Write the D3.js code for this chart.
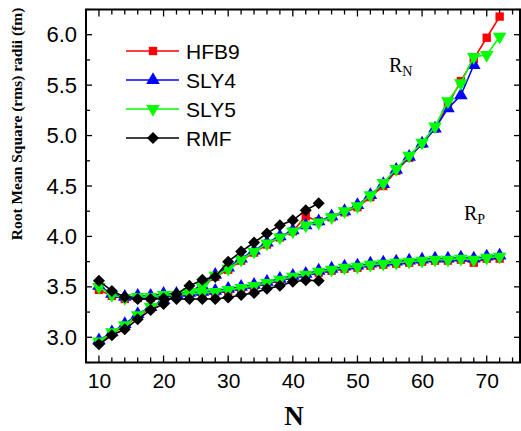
<!DOCTYPE html>
<html lang="en">
<head>
<meta charset="utf-8">
<script src="https://d3js.org/d3.v7.min.js"></script>
<style>
  body { margin: 0; background: #fff; }
  svg { display: block; }
  .tick text { font-family: "Liberation Sans", Arial, sans-serif; font-size: 21px; fill: #000; }
  .yax .tick text { font-size: 22px; }
</style>
<title>rms radii</title>
</head>
<body>
<script>
// neutron number
var nSky = d3.range(10, 73, 2);
var nRmf = d3.range(10, 45, 2);
var nSly4N = d3.range(10, 69, 2);

// R_N branch
var hfb9N = [2.95, 3.04, 3.11, 3.21, 3.29, 3.36, 3.41, 3.45, 3.50, 3.60, 3.67, 3.76, 3.84, 3.92, 3.99, 4.05,
             4.20, 4.15, 4.19, 4.24, 4.29, 4.39, 4.50, 4.65, 4.78, 4.92, 5.07, 5.31, 5.54, 5.76, 5.97, 6.18];
var sly4N = [2.97, 3.05, 3.13, 3.23, 3.30, 3.37, 3.42, 3.46, 3.51, 3.62, 3.69, 3.78, 3.86, 3.94, 4.00, 4.06,
             4.11, 4.15, 4.20, 4.25, 4.31, 4.41, 4.52, 4.66, 4.79, 4.92, 5.07, 5.27, 5.40, 5.70];
var sly5N = [2.96, 3.05, 3.12, 3.22, 3.30, 3.36, 3.42, 3.45, 3.50, 3.61, 3.68, 3.77, 3.85, 3.93, 3.99, 4.05,
             4.11, 4.14, 4.19, 4.25, 4.30, 4.41, 4.53, 4.67, 4.80, 4.93, 5.09, 5.34, 5.52, 5.78, 5.80, 5.98];
var rmfN  = [2.93, 3.02, 3.08, 3.18, 3.27, 3.33, 3.43, 3.51, 3.57, 3.60, 3.75, 3.85, 3.94, 4.03, 4.11, 4.16, 4.26, 4.33];

// R_P branch
var hfb9P = [3.47, 3.41, 3.38, 3.39, 3.39, 3.41, 3.41, 3.42, 3.43, 3.44, 3.46, 3.48, 3.50, 3.53, 3.56, 3.59,
             3.61, 3.64, 3.66, 3.68, 3.69, 3.71, 3.72, 3.73, 3.74, 3.75, 3.76, 3.76, 3.77, 3.74, 3.78, 3.78];
var sly4P = [3.51, 3.43, 3.40, 3.41, 3.41, 3.43, 3.43, 3.44, 3.45, 3.46, 3.48, 3.50, 3.52, 3.55, 3.58, 3.61,
             3.63, 3.66, 3.68, 3.70, 3.71, 3.73, 3.74, 3.75, 3.76, 3.77, 3.78, 3.78, 3.79, 3.78, 3.80, 3.81];
var sly5P = [3.50, 3.42, 3.39, 3.40, 3.40, 3.42, 3.42, 3.43, 3.44, 3.45, 3.47, 3.49, 3.51, 3.54, 3.57, 3.60,
             3.62, 3.65, 3.67, 3.69, 3.70, 3.72, 3.73, 3.74, 3.75, 3.76, 3.77, 3.77, 3.78, 3.77, 3.79, 3.80];
var rmfP  = [3.56, 3.46, 3.40, 3.38, 3.38, 3.385, 3.38, 3.38, 3.38, 3.38, 3.395, 3.42, 3.44, 3.48, 3.51, 3.55, 3.565, 3.56];

var seriesNames = ["HFB9", "SLY4", "SLY5", "RMF"];
var xTicks = [10, 20, 30, 40, 50, 60, 70];
var yTicks = [3.0, 3.5, 4.0, 4.5, 5.0, 5.5, 6.0];

var w = 521, h = 431;
var pL = 86, pR = 520, pT = 9.5, pB = 362.5;

var svg = d3.select("body").append("svg")
  .attr("width", w)
  .attr("height", h);

var x = d3.scaleLinear().domain([8, 75.15]).range([pL, pR]);
var y = d3.scaleLinear().domain([2.75, 6.25]).range([pB, pT]);

// frame
svg.append("rect")
  .attr("x", pL).attr("y", pT)
  .attr("width", pR - pL).attr("height", pB - pT)
  .attr("fill", "none").attr("stroke", "#000").attr("stroke-width", 2);

var xMinor = d3.range(8, 76, 2);
var yMinor = d3.range(0, 15).map(function(i) { return 2.75 + i * 0.25; });

// bottom axis
var gx = svg.append("g").attr("transform", "translate(0," + pB + ")");
gx.call(d3.axisBottom(x).tickValues(xTicks).tickSize(0).tickPadding(11).tickFormat(d3.format("d")));
gx.select(".domain").remove();
svg.append("g").selectAll("line").data(xMinor).enter().append("line")
  .attr("x1", function(d) { return x(d); }).attr("x2", function(d) { return x(d); })
  .attr("y1", pB).attr("y2", function(d) { return pB - (d % 10 === 0 ? 7 : 5); })
  .attr("stroke", "#000").attr("stroke-width", 1.3);
svg.append("g").selectAll("line").data(xMinor).enter().append("line")
  .attr("x1", function(d) { return x(d); }).attr("x2", function(d) { return x(d); })
  .attr("y1", pT).attr("y2", function(d) { return pT + (d % 10 === 0 ? 7 : 5); })
  .attr("stroke", "#000").attr("stroke-width", 1.3);

// left axis
var gy = svg.append("g").attr("class", "yax").attr("transform", "translate(" + pL + ",0)");
gy.call(d3.axisLeft(y).tickValues(yTicks).tickSize(0).tickPadding(9).tickFormat(d3.format(".1f")));
gy.select(".domain").remove();
svg.append("g").selectAll("line").data(yMinor).enter().append("line")
  .attr("x1", pL).attr("x2", function(d, i) { return pL + (i % 2 === 1 ? 6 : 4); })
  .attr("y1", function(d) { return y(d); }).attr("y2", function(d) { return y(d); })
  .attr("stroke", "#000").attr("stroke-width", 1.3);
svg.append("g").selectAll("line").data(yMinor).enter().append("line")
  .attr("x1", pR).attr("x2", function(d, i) { return pR - (i % 2 === 1 ? 6 : 4); })
  .attr("y1", function(d) { return y(d); }).attr("y2", function(d) { return y(d); })
  .attr("stroke", "#000").attr("stroke-width", 1.3);

// axis titles
svg.append("text")
  .attr("transform", "translate(22,124) rotate(-90)")
  .attr("text-anchor", "middle")
  .style("font-family", "'Liberation Serif', 'Times New Roman', serif")
  .style("font-weight", "bold")
  .style("font-size", "15.5px")
  .text("Root Mean Square (rms) radii (fm)");

svg.append("text")
  .attr("x", 294).attr("y", 425)
  .attr("text-anchor", "middle")
  .style("font-family", "'Liberation Serif', 'Times New Roman', serif")
  .style("font-weight", "bold")
  .style("font-size", "27px")
  .text("N");

// series
var sym = {
  HFB9: d3.symbol().type(d3.symbolSquare).size(70),
  SLY4: d3.symbol().type(d3.symbolTriangle).size(80),
  SLY5: d3.symbol().type(d3.symbolTriangle).size(80),
  RMF: d3.symbol().type(d3.symbolSquare).size(72)
};
var colors = { HFB9: "#ff0000", SLY4: "#0000ff", SLY5: "#00ff00", RMF: "#000000" };
var rot = { HFB9: 0, SLY4: 0, SLY5: 180, RMF: 45 };

var data = [
  { name: "HFB9", n: nSky, a: hfb9N, b: hfb9P },
  { name: "SLY4", n: nSly4N, a: sly4N, nb: nSky, b: sly4P },
  { name: "SLY5", n: nSky, a: sly5N, b: sly5P },
  { name: "RMF", n: nRmf, a: rmfN, b: rmfP }
];

var line = d3.line()
  .x(function(d) { return x(d[0]); })
  .y(function(d) { return y(d[1]); });

data.forEach(function(s) {
  var branches = [
    s.n.map(function(v, i) { return [v, s.a[i]]; }),
    (s.nb || s.n).map(function(v, i) { return [v, s.b[i]]; })
  ];
  var g = svg.append("g");
  branches.forEach(function(pts) {
    g.append("path")
      .attr("d", line(pts))
      .attr("fill", "none")
      .attr("stroke", colors[s.name])
      .attr("stroke-width", 1.6);
    g.selectAll(null).data(pts).enter().append("path")
      .attr("d", sym[s.name])
      .attr("transform", function(d) {
        return "translate(" + x(d[0]) + "," + y(d[1]) + ") rotate(" + rot[s.name] + ")";
      })
      .attr("fill", colors[s.name]);
  });
});

// legend
var leg = svg.append("g");
seriesNames.forEach(function(name, i) {
  var ly = 51 + i * 29;
  leg.append("line")
    .attr("x1", 126).attr("x2", 179).attr("y1", ly).attr("y2", ly)
    .attr("stroke", colors[name]).attr("stroke-width", 1.6);
  leg.append("path")
    .attr("d", sym[name])
    .attr("transform", "translate(153," + ly + ") rotate(" + rot[name] + ")")
    .attr("fill", colors[name]);
  leg.append("text")
    .attr("x", 186).attr("y", ly + 7.5)
    .style("font-family", "'Liberation Sans', Arial, sans-serif")
    .style("font-size", "21px")
    .text(name);
});

// branch labels
function branchLabel(px, py, sub) {
  var t = svg.append("text")
    .attr("x", px).attr("y", py)
    .style("font-family", "'Liberation Serif', 'Times New Roman', serif")
    .style("font-size", "20px");
  t.append("tspan").text("R");
  t.append("tspan").attr("dy", 4).style("font-size", "14px").text(sub);
}
branchLabel(389, 72, "N");
branchLabel(464, 220, "P");
</script>
</body>
</html>
